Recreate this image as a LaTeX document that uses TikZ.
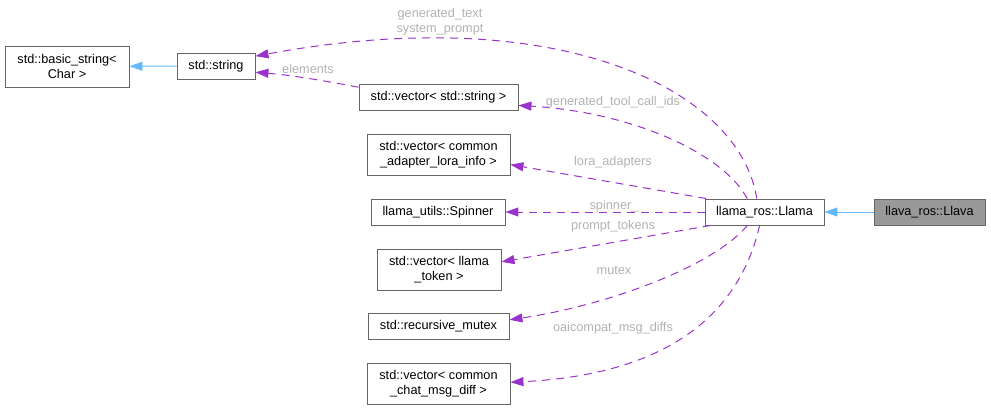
\documentclass[tikz,border=0pt]{standalone}
\usepackage{fontspec}
\setmainfont{Liberation Sans}
\usetikzlibrary{positioning,arrows.meta}
\definecolor{edgepurple}{HTML}{9A32CD}
\definecolor{edgeblue}{HTML}{63B8FF}
\tikzset{
  block/.style={
    draw=black!60, fill=white, line width=0.9pt,
    minimum height=26pt, align=center,
    font=\fontsize{12.7}{15}\selectfont, inner sep=1pt
  },
  tallblock/.style={block, minimum height=41pt},
  curblock/.style={block, fill=black!40},
  inherit/.style={-{Triangle[length=13pt,width=9pt]}, draw=edgeblue, line width=1pt},
  member/.style={-{Triangle[length=13pt,width=9pt]}, draw=edgepurple,
    line width=1pt, dash pattern=on 8pt off 6pt},
  memberlabel/.style={text=black!30, font=\fontsize{12.7}{15}\selectfont, inner sep=0pt, align=center}
}
\begin{document}
\begin{tikzpicture}[x=1pt, y=-1pt]
  \useasboundingbox (0,0) rectangle (991,410);

  \node[tallblock, minimum width=124pt] (bstr) at (67,66.5) {std::basic\_string<\\Char >};
  \node[block, minimum width=78pt] (str) at (216,66) {std::string};

  \node[block, minimum width=159pt] (vstr) at (438.5,97) {std::vector< std::string >};
  \node[tallblock, minimum width=143pt] (lora) at (438.5,154.5) {std::vector< common\\\_adapter\_lora\_info >};
  \node[block, minimum width=134pt] (spin) at (438,212) {llama\_utils::Spinner};
  \node[tallblock, minimum width=124pt] (tok) at (439,269.5) {std::vector< llama\\\_token >};
  \node[block, minimum width=141pt] (mtx) at (438.5,326) {std::recursive\_mutex};
  \node[tallblock, minimum width=143pt] (diff) at (438.5,383.5) {std::vector< common\\\_chat\_msg\_diff >};

  \node[block, minimum width=119pt] (llama) at (764.5,212) {llama\_ros::Llama};
  \node[curblock, minimum width=111pt] (llava) at (929.5,212) {llava\_ros::Llava};

  % inheritance
  \draw[inherit] (str) -- (bstr);
  \draw[inherit] (llava) -- (llama);

  % members
  \draw[member] (llama.120) .. controls (740,90) and (560,0) .. (str.14);
  \draw[member] (vstr.173) .. controls (320,80) and (290,75) .. (str.-9);
  \draw[member] (llama.142) .. controls (722,152) and (630,112) .. (vstr.-6);
  \draw[member] (llama.167) -- (lora.-8);
  \draw[member] (llama) -- (spin);
  \draw[member] (llama.194) -- (tok.7);
  \draw[member] (llama.218) .. controls (715,265) and (610,305) .. (mtx.5);
  \draw[member] (llama.250) .. controls (738,320) and (660,375) .. (diff.1);

  \node[memberlabel] (lbltext) at (440,21.5) {generated\_text\\system\_prompt};
  \node[memberlabel] (lblelem) at (308,69) {elements};
  \node[memberlabel] (lbltool) at (613,102) {generated\_tool\_call\_ids};
  \node[memberlabel] (lbllora) at (613,162) {lora\_adapters};
  \node[memberlabel] (lblspin) at (614,206) {spinner\_};
  \node[memberlabel] (lbltok) at (613,226) {prompt\_tokens};
  \node[memberlabel] (lblmtx) at (614,270) {mutex};
  \node[memberlabel] (lbldiff) at (613,328) {oaicompat\_msg\_diffs};
\end{tikzpicture}
\end{document}
